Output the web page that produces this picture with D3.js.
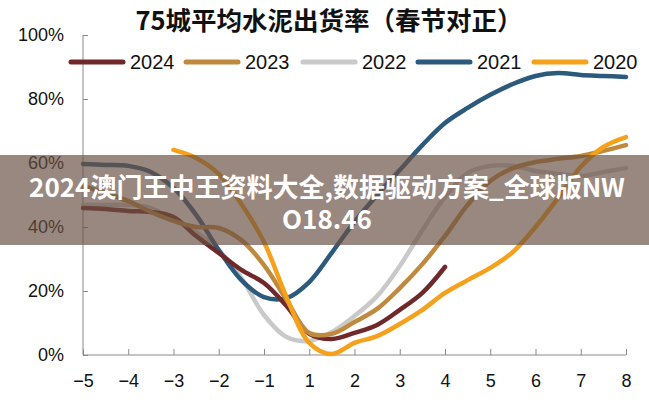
<!DOCTYPE html>
<html>
<head>
<meta charset="utf-8">
<script src="https://cdn.jsdelivr.net/npm/d3@7"></script>
<style>
  html, body { margin: 0; padding: 0; background: #fff; }
  svg { display: block; }
</style>
</head>
<body>
<svg id="chart" width="649" height="400"></svg>
<script>
// ---- data ----
const title = "75城平均水泥出货率（春节对正）";
const categories = ["\u22125", "\u22124", "\u22123", "\u22122", "\u22121", "1", "2", "3", "4", "5", "6", "7", "8"];
const yTicks = [0, 20, 40, 60, 80, 100];
// sample positions in category-index units (0 = −5 ... 12 = 8)
const steps = [0, 0.5, 1, 1.5, 2, 2.5, 3, 3.5, 4, 4.5, 5, 5.5, 6, 6.5, 7, 7.5, 8, 8.5, 9, 9.5, 10, 10.5, 11, 11.5, 12];
const seriesNames = ["2024", "2023", "2022", "2021", "2020"];
const v2024 = [45.9, 45.6, 45.0, 44.7, 43.1, 37.2, 31.9, 26.6, 22.5, 15.3, 6.6, 5.0, 6.9, 9.4, 14.1, 19.4, 27.5,
               null, null, null, null, null, null, null, null];
const v2023 = [52.8, 50.6, 48.1, 44.7, 41.9, 40.0, 39.7, 35.9, 28.1, 17.2, 6.9, 6.6, 10.3, 14.4, 20.9, 28.4, 37.2,
               46.9, 54.4, 58.4, 60.3, 61.3, 62.2, 63.8, 65.6];
const v2022 = [46.9, 46.9, 46.9, 45.9, 42.2, 38.4, 32.8, 24.1, 12.5, 5.6, 4.4, 7.2, 12.2, 18.4, 27.8, 39.0, 49.4,
               56.9, 59.1, 59.1, 57.5, 56.6, 55.9, 57.2, 58.4];
const v2021 = [59.7, 59.4, 59.1, 57.2, 52.2, 43.8, 32.8, 23.4, 18.1, 17.8, 22.8, 32.0, 41.6, 50.0, 57.8, 65.6, 72.5,
               77.2, 81.3, 84.7, 87.2, 88.1, 87.5, 87.2, 86.9];
const v2020 = [null, null, null, null, 64.1, 61.6, 56.6, 47.2, 35.3, 18.0, 3.8, 0.3, 3.8, 5.9, 9.7, 14.1, 19.4,
               23.4, 27.2, 32.2, 40.0, 49.1, 58.8, 65.0, 68.1];
const seriesValues = [v2024, v2023, v2022, v2021, v2020];
const seriesColors = ["#70292b", "#c08a3e", "#c9c9c9", "#2c5a7c", "#f6a11b"];
const drawOrder = [2, 3, 0, 1, 4];
const overlayLines = ["2024澳门王中王资料大全,数据驱动方案_全球版NW", "O18.46"];

// ---- layout ----
const svg = d3.select("#chart");
const plotL = 83, plotR = 626, plotT = 35, plotB = 355;
const x = d3.scaleLinear().domain([0, categories.length - 1]).range([plotL, plotR]);
const y = d3.scaleLinear().domain([0, 100]).range([plotB, plotT]);
const axisFont = "'Liberation Sans Narrow', 'Arial Narrow', 'Liberation Sans', Arial, sans-serif";
const axisColor = "#8a8a8a";

// title
svg.append("text")
  .attr("x", 329).attr("y", 30)
  .attr("text-anchor", "middle")
  .attr("font-family", "'Noto Sans CJK SC', sans-serif")
  .attr("font-weight", "bold")
  .attr("font-size", 25.5)
  .attr("fill", "#111")
  .text(title);

// y axis
const yAxis = d3.axisLeft(y).tickValues(yTicks).tickSize(-5).tickPadding(19)
  .tickFormat(d => d + "%");
const gy = svg.append("g").attr("transform", `translate(${plotL},0)`).call(yAxis);
gy.select(".domain").attr("stroke", axisColor).attr("d", `M0,${plotT}V${plotB}`);
gy.selectAll(".tick line").attr("stroke", axisColor);
gy.selectAll(".tick text").attr("font-family", axisFont).attr("font-size", 18).attr("fill", "#111");

// x axis
const xAxis = d3.axisBottom(x).tickValues(d3.range(categories.length)).tickSize(-6).tickPadding(19)
  .tickFormat(i => categories[i]);
const gx = svg.append("g").attr("transform", `translate(0,${plotB})`).call(xAxis);
gx.select(".domain").attr("stroke", axisColor).attr("d", `M${plotL},0H${plotR}`);
gx.selectAll(".tick line").attr("stroke", axisColor);
gx.selectAll(".tick text").attr("font-family", axisFont).attr("font-size", 18).attr("fill", "#111");

// lines
const line = d3.line()
  .defined(d => d[1] != null)
  .x(d => x(d[0]))
  .y(d => y(d[1]))
  .curve(d3.curveCatmullRom.alpha(0.5));

drawOrder.forEach(k => {
  const pts = steps.map((s, i) => [s, seriesValues[k][i]]);
  svg.append("path")
    .datum(pts)
    .attr("fill", "none")
    .attr("stroke", seriesColors[k])
    .attr("stroke-width", 4.5)
    .attr("stroke-linecap", "round")
    .attr("stroke-linejoin", "round")
    .attr("d", line);
});

// legend
const legendX = [71, 186, 303, 418, 534];
const lg = svg.append("g");
seriesNames.forEach((name, k) => {
  lg.append("line")
    .attr("x1", legendX[k]).attr("x2", legendX[k] + 52)
    .attr("y1", 62).attr("y2", 62)
    .attr("stroke", seriesColors[k]).attr("stroke-width", 5).attr("stroke-linecap", "round");
  lg.append("text")
    .attr("x", legendX[k] + 59).attr("y", 69)
    .attr("font-family", axisFont).attr("font-size", 20).attr("fill", "#111")
    .text(name);
});

// overlay band
svg.append("rect")
  .attr("x", 0).attr("y", 155).attr("width", 649).attr("height", 90)
  .attr("fill", "rgb(105,80,66)").attr("fill-opacity", 0.68);
overlayLines.forEach((t, i) => {
  svg.append("text")
    .attr("x", 327).attr("y", 197 + i * 32)
    .attr("text-anchor", "middle")
    .attr("font-family", "'Noto Sans CJK SC', sans-serif")
    .attr("font-weight", "bold")
    .attr("font-size", 26)
    .attr("fill", "#fff")
    .text(t);
});
</script>
</body>
</html>
